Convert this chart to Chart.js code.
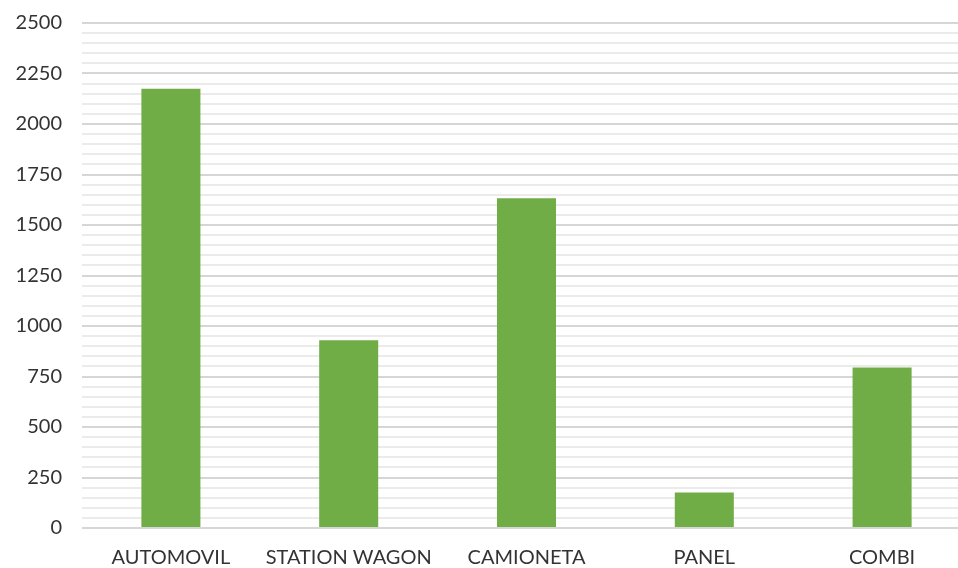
<!DOCTYPE html>
<html>
<head>
<meta charset="utf-8">
<script src="https://cdn.jsdelivr.net/npm/chart.js@4/dist/chart.umd.min.js"></script>
<style>
  html, body { margin: 0; padding: 0; background: #fff; overflow: hidden; }
  #wrap { width: 975px; height: 577px; margin-top: -9px; }
</style>
</head>
<body>
<div id="wrap"><canvas id="bar-chart" width="975" height="577"></canvas></div>
<script>
// Chart data
const categories = ["AUTOMOVIL", "STATION WAGON", "CAMIONETA", "PANEL", "COMBI"];
const values = [2175, 930, 1632, 176, 795];
const yTicks = [0, 250, 500, 750, 1000, 1250, 1500, 1750, 2000, 2250, 2500];

const ctx = document.getElementById("bar-chart");

new Chart(ctx, {
  type: "bar",
  data: {
    labels: categories,
    datasets: [
      {
        data: values,
        backgroundColor: "#70AD47",
        borderWidth: 0,
        barPercentage: 1,
        categoryPercentage: 0.332,
      },
    ],
  },
  options: {
    responsive: false,
    animation: false,
    layout: { padding: { top: 0, right: 4, left: 0, bottom: 0 } },
    plugins: { legend: { display: false }, tooltip: { enabled: false } },
    scales: {
      x: {
        grid: { display: false, drawTicks: false },
        border: { display: false },
        ticks: {
          padding: 18,
          color: "#333333",
          font: { family: "Lato", size: 20 },
          maxRotation: 0,
        },
        afterFit: (scale) => { scale.height = 40; },
      },
      y: {
        min: 0,
        max: yTicks[yTicks.length - 1],
        border: { display: false },
        grid: {
          drawTicks: false,
          lineWidth: 2,
          color: (c) => (yTicks.includes(c.tick.value) ? "#d6d6d6" : "#ebebeb"),
        },
        ticks: {
          stepSize: 50,
          autoSkip: false,
          padding: 20,
          color: "#333333",
          font: { family: "Lato", size: 20 },
          callback: (v) => (yTicks.includes(v) ? v : ""),
        },
        afterFit: (scale) => { scale.width = 82; },
      },
    },
  },
});
</script>
</body>
</html>
